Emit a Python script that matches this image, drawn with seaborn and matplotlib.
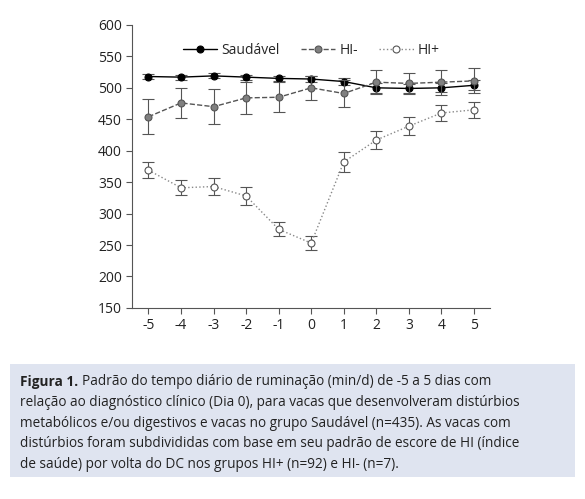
import numpy as np
import pandas as pd
import seaborn as sns
import matplotlib.pyplot as plt
from matplotlib.patches import Rectangle

dias = [-5, -4, -3, -2, -1, 0, 1, 2, 3, 4, 5]
saudavel = [518, 517, 519, 517, 515, 514, 510, 500, 499, 500, 504]
saudavel_err = [4, 4, 4, 4, 4, 5, 5, 8, 7, 7, 8]
hi_neg = [454, 476, 470, 484, 485, 500, 491, 509, 507, 509, 511]
hi_neg_err = [28, 24, 28, 25, 24, 19, 21, 19, 17, 20, 20]
hi_pos = [369, 341, 343, 328, 275, 253, 382, 417, 439, 460, 465]
hi_pos_err = [13, 12, 14, 14, 11, 11, 16, 15, 14, 13, 13]

sns.set_style("white")
plt.rcParams['font.family'] = ['Open Sans', 'DejaVu Sans']
plt.rcParams['axes.unicode_minus'] = False

fig = plt.figure(figsize=(5.85, 4.99), dpi=100)
ax = fig.add_axes([0.226, 0.383, 0.612, 0.567])

series = [
    ("Saudável", saudavel, saudavel_err, "-", "black", "black", "black"),
    ("HI-", hi_neg, hi_neg_err, "--", "#555555", "#808080", "#555555"),
    ("HI+", hi_pos, hi_pos_err, ":", "#888888", "white", "#555555"),
]
for nome, vals, err, ls, cor, face, edge in series:
    ax.errorbar(dias, vals, yerr=err, fmt="none", ecolor="#555555", elinewidth=0.8, capsize=4, capthick=0.8)
    df = pd.DataFrame({"dia": dias, "v": vals})
    sns.lineplot(data=df, x="dia", y="v", ax=ax, color=cor, linestyle=ls, linewidth=1.0,
                 marker="o", markersize=5, markerfacecolor=face, markeredgecolor=edge,
                 markeredgewidth=0.8, label=nome)

ax.set_ylim(150, 600)
ax.set_xlim(-5.5, 5.5)
ax.set_yticks(range(150, 601, 50))
ax.set_xticks(dias)
ax.set_xlabel("")
ax.set_ylabel("")
for s in ["top", "right"]:
    ax.spines[s].set_visible(False)
for s in ["left", "bottom"]:
    ax.spines[s].set_color("#555555")
ax.tick_params(axis="both", direction="out", length=4, width=0.8, color="#555555", labelsize=10,
               labelcolor="#222222", left=True, bottom=True)
ax.legend(loc="upper center", bbox_to_anchor=(0.5, 0.98), ncol=3, frameon=False, fontsize=10,
          handlelength=2.5, columnspacing=1.5, handletextpad=0.3)

fig.patches.append(Rectangle((0.017, 0.045), 0.966, 0.225, transform=fig.transFigure,
                             facecolor="#dfe4f0", edgecolor="none", zorder=0))
linhas = [
    "Padrão do tempo diário de ruminação (min/d) de -5 a 5 dias com",
    "relação ao diagnóstico clínico (Dia 0), para vacas que desenvolveram distúrbios",
    "metabólicos e/ou digestivos e vacas no grupo Saudável (n=435). As vacas com",
    "distúrbios foram subdivididas com base em seu padrão de escore de HI (índice",
    "de saúde) por volta do DC nos grupos HI+ (n=92) e HI- (n=7).",
]
y0 = 0.235
dy = 0.0415
fs = 9.8
t = fig.text(0.034, y0, "Figura 1.", fontsize=fs, fontweight="bold", color="#222222", va="center")
fig.canvas.draw()
bb = t.get_window_extent().transformed(fig.transFigure.inverted())
fig.text(bb.x1 + 0.006, y0, linhas[0], fontsize=fs, color="#222222", va="center")
for i, l in enumerate(linhas[1:], start=1):
    fig.text(0.034, y0 - i * dy, l, fontsize=fs, color="#222222", va="center")

fig.savefig("out.png", dpi=100)
